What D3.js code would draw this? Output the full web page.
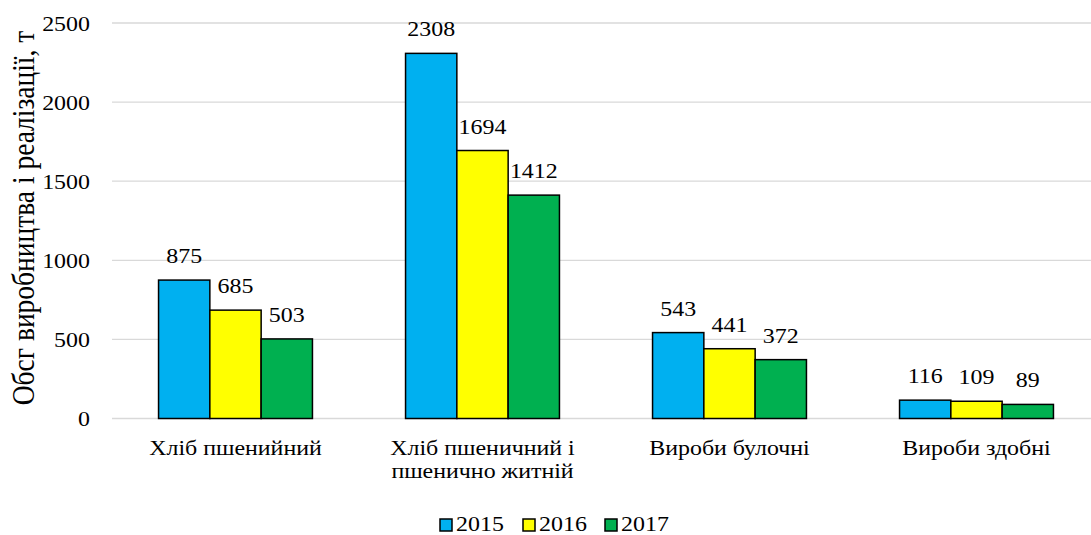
<!DOCTYPE html>
<html>
<head>
<meta charset="utf-8">
<script src="https://cdn.jsdelivr.net/npm/d3@7"></script>
<style>
  html, body { margin: 0; padding: 0; background: #fff; }
  .figure { display: block; }
  .figure text { font-family: 'Liberation Serif', 'Times New Roman', serif !important; }
</style>
</head>
<body>
<script>
// Product groups (x-axis), each label split into display lines
const categories = ["Хліб пшенийний", "Хліб пшеничний і пшенично житній", "Вироби булочні", "Вироби здобні"];
const categoryLines = [["Хліб пшенийний"], ["Хліб пшеничний і", "пшенично житній"], ["Вироби булочні"], ["Вироби здобні"]];
const years = ["2015", "2016", "2017"];
const values2015 = [875, 2308, 543, 116];
const values2016 = [685, 1694, 441, 109];
const values2017 = [503, 1412, 372, 89];
const yTicks = [0, 500, 1000, 1500, 2000, 2500];
const colors = ["#00B0F0", "#FFFF00", "#00B050"];
const yTitle = "Обсг виробництва і реалізації, т";

const series = [values2015, values2016, values2017];
const FONT = "Liberation Serif";
const FS = 21;          // label font size
const TITLE_FS = 27.5;  // axis title font size
const SX = 1.14;        // horizontal widening of the glyphs

const svg = d3.select("body").append("svg")
  .attr("class", "figure")
  .attr("width", 1091).attr("height", 535);
const plot = { left: 112, right: 1100, top: 23, bottom: 418.5 };

const x = d3.scaleBand().domain(categories).range([plot.left, plot.right]).paddingInner(0).paddingOuter(0);
const barW = 51.3;
const groupW = barW * years.length;
const xSub = d3.scaleBand().domain(years).range([0, groupW]);
const y = d3.scaleLinear().domain([0, 2500]).range([plot.bottom, plot.top]);

function styleText(sel, size) {
  return sel.attr("font-family", FONT).attr("font-size", size || FS).attr("fill", "#000");
}
// Place a text at (px, py) with its glyphs widened horizontally
function wideText(parent, px, py, anchor) {
  return styleText(parent.append("text")
    .attr("transform", `translate(${px},${py}) scale(${SX},1)`)
    .attr("text-anchor", anchor || "middle"));
}

// Horizontal gridlines
svg.append("g").selectAll("line").data(yTicks).join("line")
  .attr("x1", plot.left).attr("x2", plot.right)
  .attr("y1", d => y(d)).attr("y2", d => y(d))
  .attr("stroke", "#d9d9d9").attr("stroke-width", 1.3);

// Y axis tick labels
const yAxis = d3.axisLeft(y).tickValues(yTicks).tickSize(0).tickPadding(22 / SX).tickFormat(d3.format("d"));
const yg = svg.append("g").attr("transform", `translate(${plot.left},0)`).call(yAxis)
  .attr("font-family", FONT).attr("font-size", FS);
yg.select(".domain").remove();
styleText(yg.selectAll("text")).attr("dy", "0.34em").attr("transform", `scale(${SX},1)`);

// Y axis title
styleText(svg.append("text")
  .attr("transform", `translate(34,218) scale(${SX},1) rotate(-90)`)
  .attr("text-anchor", "middle"), TITLE_FS)
  .text(yTitle);

// Bars and value labels
const groups = svg.append("g").selectAll("g").data(categories).join("g")
  .attr("transform", d => `translate(${x(d) + x.bandwidth() / 2 - groupW / 2},0)`);

groups.each(function(cat, ci) {
  const g = d3.select(this);
  years.forEach((yr, si) => {
    const v = series[si][ci];
    g.append("rect")
      .attr("x", xSub(yr))
      .attr("y", y(v))
      .attr("width", xSub.bandwidth())
      .attr("height", y(0) - y(v))
      .attr("fill", colors[si])
      .attr("stroke", "#000")
      .attr("stroke-width", 1.5);
    wideText(g, xSub(yr) + xSub.bandwidth() / 2, y(v) - 17).text(v);
  });
});

// Category labels
const xg = svg.append("g");
categories.forEach((cat, ci) => {
  const t = wideText(xg, x(cat) + x.bandwidth() / 2, 454.5);
  categoryLines[ci].forEach((line, li) => {
    t.append("tspan").attr("x", 0).attr("dy", li === 0 ? 0 : 23.5).text(line);
  });
});

// Legend
const legendX = [440, 523, 605];
const legend = svg.append("g");
years.forEach((yr, i) => {
  legend.append("rect")
    .attr("x", legendX[i]).attr("y", 519)
    .attr("width", 12).attr("height", 12)
    .attr("fill", colors[i]).attr("stroke", "#000").attr("stroke-width", 1.5);
  wideText(legend, legendX[i] + 16, 531, "start").text(yr);
});
</script>
</body>
</html>
